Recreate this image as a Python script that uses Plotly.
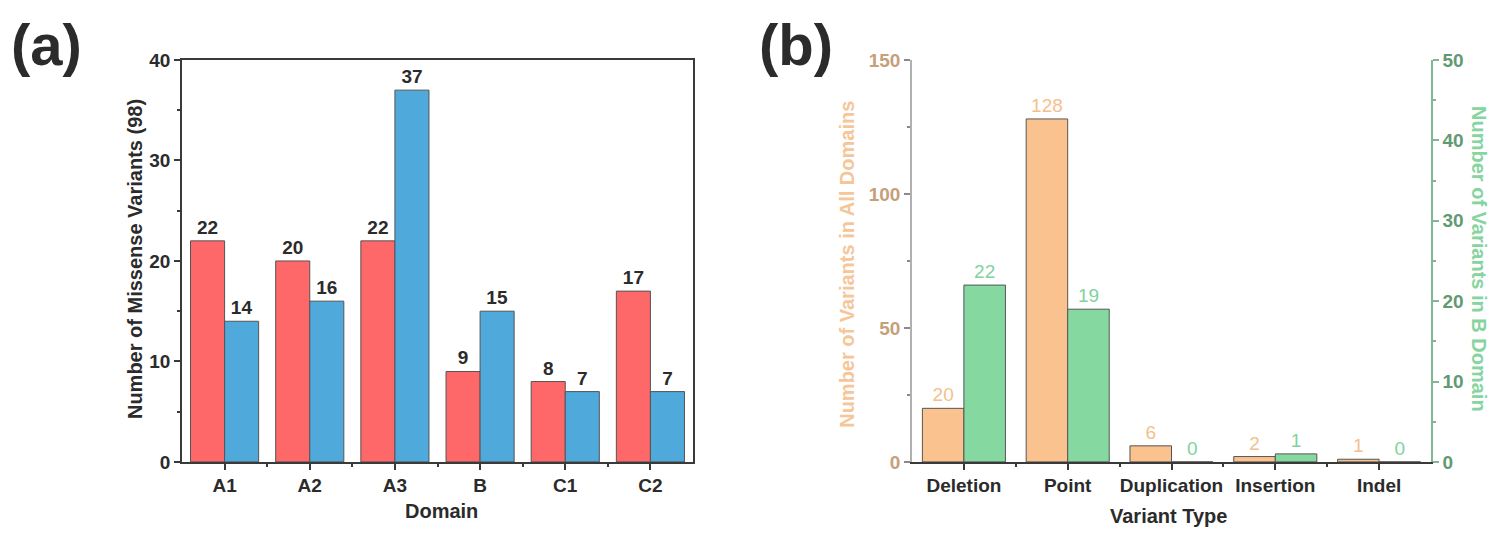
import plotly.graph_objects as go

# ---- data ----
domains = ["A1", "A2", "A3", "B", "C1", "C2"]
missense_red = [22, 20, 22, 9, 8, 17]
missense_blue = [14, 16, 37, 15, 7, 7]

variant_types = ["Deletion", "Point", "Duplication", "Insertion", "Indel"]
all_domains = [20, 128, 6, 2, 1]
b_domain = [22, 19, 0, 1, 0]

W, H = 1504, 546
def px(x): return x / W
def py(y): return 1 - y / H

FONT = "Liberation Sans"
DARK = "#2b2b2b"
RED, BLUE = "#ff6868", "#4fa9db"
ORANGE, GREEN = "#f9c28e", "#86d8a1"
ORANGE_TXT, GREEN_TXT = "#f4bf8c", "#80d39c"
ORANGE_TICK, GREEN_TICK = "#c6a07a", "#5f9a73"
TS = 19  # tick / label font size

xa = list(range(len(domains)))
xb = list(range(len(variant_types)))

fig = go.Figure()
line = dict(color="#555555", width=1)

fig.add_trace(go.Bar(x=xa, y=missense_red, width=0.4, offset=-0.4, marker=dict(color=RED, line=line),
                     text=missense_red, textposition="outside", cliponaxis=False,
                     textfont=dict(family=FONT, size=TS, color=DARK, weight=700),
                     xaxis="x", yaxis="y", showlegend=False))
fig.add_trace(go.Bar(x=xa, y=missense_blue, width=0.4, offset=0, marker=dict(color=BLUE, line=line),
                     text=missense_blue, textposition="outside", cliponaxis=False,
                     textfont=dict(family=FONT, size=TS, color=DARK, weight=700),
                     xaxis="x", yaxis="y", showlegend=False))
fig.add_trace(go.Bar(x=xb, y=all_domains, width=0.4, offset=-0.4, marker=dict(color=ORANGE, line=line),
                     text=all_domains, textposition="outside", cliponaxis=False,
                     textfont=dict(family=FONT, size=TS, color=ORANGE_TXT),
                     xaxis="x2", yaxis="y2", showlegend=False))
fig.add_trace(go.Bar(x=xb, y=b_domain, width=0.4, offset=0, marker=dict(color=GREEN, line=line),
                     text=b_domain, textposition="outside", cliponaxis=False,
                     textfont=dict(family=FONT, size=TS, color=GREEN_TXT),
                     xaxis="x2", yaxis="y3", showlegend=False))

tickfont = dict(family=FONT, size=TS, color=DARK, weight=700)
common_x = dict(showline=True, linecolor="#3a3a3a", linewidth=1.5, ticks="outside", ticklen=6,
                tickwidth=1.5, tickcolor="#3a3a3a", showgrid=False, zeroline=False, tickfont=tickfont)

fig.update_layout(
    width=W, height=H, margin=dict(l=0, r=0, t=0, b=0),
    paper_bgcolor="white", plot_bgcolor="white", barmode="overlay",
    xaxis=dict(domain=[px(182), px(693)], anchor="y", range=[-0.5, len(domains) - 0.5],
               tickvals=xa, ticktext=domains, mirror=True,
               minor=dict(tickvals=[i + 0.5 for i in xa[:-1]], ticks="outside", ticklen=3,
                          tickcolor="#3a3a3a", tickwidth=1.5),
               **common_x),
    yaxis=dict(domain=[py(470), py(52)], anchor="x", range=[0, 40], dtick=10, mirror=True,
               minor=dict(dtick=5, ticks="outside", ticklen=3, tickcolor="#3a3a3a", tickwidth=1.5),
               **common_x),
    xaxis2=dict(domain=[px(912), px(1431)], anchor="y2", range=[-0.5, len(variant_types) - 0.5],
                tickvals=xb, ticktext=variant_types,
                minor=dict(tickvals=[i + 0.5 for i in xb[:-1]], ticks="outside", ticklen=3,
                           tickcolor="#3a3a3a", tickwidth=1.5),
                **common_x),
    xaxis3=dict(domain=[px(912), px(1431)], anchor="y2", overlaying="x2", side="top",
                range=[-0.5, len(variant_types) - 0.5], showline=True, linecolor="#3a3a3a",
                linewidth=1.5, ticks="inside", ticklen=6, tickwidth=1.5, tickcolor="#3a3a3a",
                tickvals=xb, showticklabels=False, showgrid=False, zeroline=False,
                minor=dict(tickvals=[i + 0.5 for i in xb[:-1]], ticks="inside", ticklen=6,
                           tickcolor="#3a3a3a", tickwidth=1.5)),
    yaxis2=dict(domain=[py(470), py(52)], anchor="x2", range=[0, 150], dtick=50,
                showline=True, linecolor="#b0b0b0", linewidth=1.5, ticks="outside", ticklen=6,
                tickwidth=1.5, tickcolor="#8a8a8a", showgrid=False, zeroline=False,
                tickfont=dict(family=FONT, size=TS, color=ORANGE_TICK, weight=700),
                minor=dict(dtick=25, ticks="outside", ticklen=3, tickcolor="#8a8a8a", tickwidth=1.5)),
    yaxis3=dict(domain=[py(470), py(52)], anchor="x2", overlaying="y2", side="right",
                range=[0, 50], dtick=10, showline=True, linecolor="#7fb892", linewidth=1.5,
                ticks="outside", ticklen=6, tickwidth=1.5, tickcolor="#7fb892",
                showgrid=False, zeroline=False,
                tickfont=dict(family=FONT, size=TS, color=GREEN_TICK, weight=700),
                minor=dict(dtick=5, ticks="outside", ticklen=3, tickcolor="#7fb892", tickwidth=1.5)),
)

def ann(text, x, y, size=20, color=DARK, angle=0, weight=700):
    fig.add_annotation(text=text, x=px(x), y=py(y), xref="paper", yref="paper",
                       showarrow=False, textangle=angle, xanchor="center", yanchor="middle",
                       font=dict(family=FONT, size=size, color=color, weight=weight))

ann("(a)", 46, 36, size=58)
ann("(b)", 796, 36, size=58)
ann("Number of Missense Variants (98)", 135, 259, angle=-90)
ann("Domain", 441, 521)
ann("Variant Type", 1168, 526)
ann("Number of Variants in All Domains", 847, 265, color="#f5c699", angle=-90)
ann("Number of Variants in B Domain", 1479, 259, color="#86d4a0", angle=90)

fig.write_html("out.html", config={"displayModeBar": False},
               post_script="document.body.style.margin='0';document.body.style.overflow='hidden';")
